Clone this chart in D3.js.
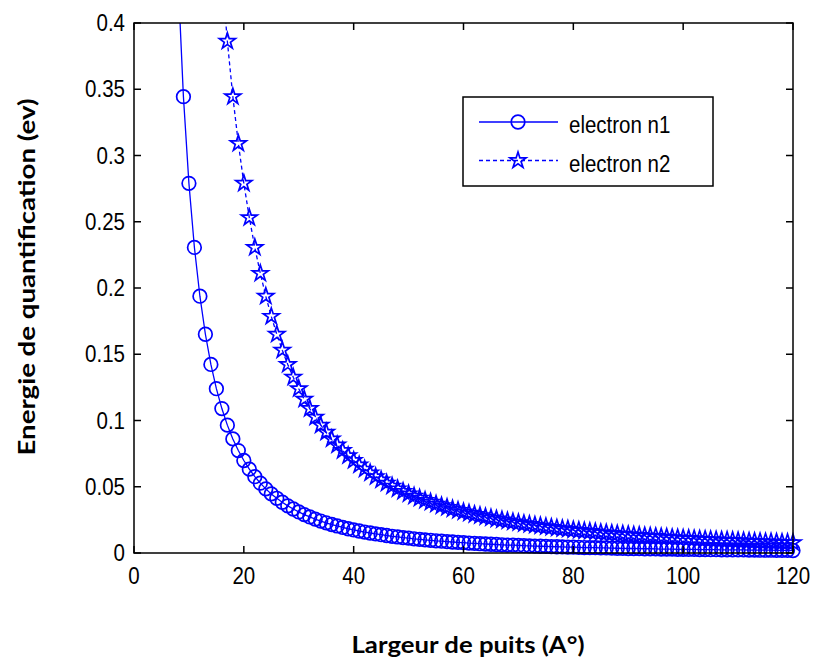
<!DOCTYPE html>
<html>
<head>
<meta charset="utf-8">
<script src="https://cdn.jsdelivr.net/npm/d3@7"></script>
<style>
  body { margin: 0; background: #fff; }
  svg { display: block; }
  .tick-label { font-family: "Liberation Sans", Arial, sans-serif; font-size: 20.5px; fill: #000; }
  .axis-title { font-family: Lato, "Open Sans", sans-serif; font-weight: bold; font-size: 22px; fill: #000; }
</style>
</head>
<body>
<div id="chart"></div>
<script>
// well width (A°)
var widths = [
  8, 9, 10, 11, 12, 13, 14, 15, 16, 17, 18, 19, 20, 21, 22, 23, 24, 25, 26, 27,
  28, 29, 30, 31, 32, 33, 34, 35, 36, 37, 38, 39, 40, 41, 42, 43, 44, 45, 46, 47,
  48, 49, 50, 51, 52, 53, 54, 55, 56, 57, 58, 59, 60, 61, 62, 63, 64, 65, 66, 67,
  68, 69, 70, 71, 72, 73, 74, 75, 76, 77, 78, 79, 80, 81, 82, 83, 84, 85, 86, 87,
  88, 89, 90, 91, 92, 93, 94, 95, 96, 97, 98, 99, 100, 101, 102, 103, 104, 105, 106, 107,
  108, 109, 110, 111, 112, 113, 114, 115, 116, 117, 118, 119, 120
];

// quantification energy (ev), level n1
var electronN1 = [
  0.4359, 0.3444, 0.2790, 0.2306, 0.1938, 0.1651, 0.1423, 0.1240, 0.1090, 0.0965,
  0.0861, 0.0773, 0.0698, 0.0633, 0.0576, 0.0527, 0.0484, 0.0446, 0.0413, 0.0383,
  0.0356, 0.0332, 0.0310, 0.0290, 0.0272, 0.0256, 0.0241, 0.0228, 0.0215, 0.0204,
  0.0193, 0.0183, 0.0174, 0.0166, 0.0158, 0.0151, 0.0144, 0.0138, 0.0132, 0.0126,
  0.0121, 0.0116, 0.0112, 0.0107, 0.0103, 0.0099, 0.0096, 0.0092, 0.0089, 0.0086,
  0.0083, 0.0080, 0.0078, 0.0075, 0.0073, 0.0070, 0.0068, 0.0066, 0.0064, 0.0062,
  0.0060, 0.0059, 0.0057, 0.0055, 0.0054, 0.0052, 0.0051, 0.0050, 0.0048, 0.0047,
  0.0046, 0.0045, 0.0044, 0.0043, 0.0041, 0.0040, 0.0040, 0.0039, 0.0038, 0.0037,
  0.0036, 0.0035, 0.0034, 0.0034, 0.0033, 0.0032, 0.0032, 0.0031, 0.0030, 0.0030,
  0.0029, 0.0028, 0.0028, 0.0027, 0.0027, 0.0026, 0.0026, 0.0025, 0.0025, 0.0024,
  0.0024, 0.0023, 0.0023, 0.0023, 0.0022, 0.0022, 0.0021, 0.0021, 0.0021, 0.0020,
  0.0020, 0.0020, 0.0019
];

// quantification energy (ev), level n2
var electronN2 = [
  1.7438, 1.3778, 1.1160, 0.9223, 0.7750, 0.6604, 0.5694, 0.4960, 0.4359, 0.3862,
  0.3444, 0.3091, 0.2790, 0.2531, 0.2306, 0.2110, 0.1938, 0.1786, 0.1651, 0.1531,
  0.1423, 0.1327, 0.1240, 0.1161, 0.1090, 0.1025, 0.0965, 0.0911, 0.0861, 0.0815,
  0.0773, 0.0734, 0.0698, 0.0664, 0.0633, 0.0604, 0.0576, 0.0551, 0.0527, 0.0505,
  0.0484, 0.0465, 0.0446, 0.0429, 0.0413, 0.0397, 0.0383, 0.0369, 0.0356, 0.0343,
  0.0332, 0.0321, 0.0310, 0.0300, 0.0290, 0.0281, 0.0272, 0.0264, 0.0256, 0.0249,
  0.0241, 0.0234, 0.0228, 0.0221, 0.0215, 0.0209, 0.0204, 0.0198, 0.0193, 0.0188,
  0.0183, 0.0179, 0.0174, 0.0170, 0.0166, 0.0162, 0.0158, 0.0154, 0.0151, 0.0147,
  0.0144, 0.0141, 0.0138, 0.0135, 0.0132, 0.0129, 0.0126, 0.0124, 0.0121, 0.0119,
  0.0116, 0.0114, 0.0112, 0.0109, 0.0107, 0.0105, 0.0103, 0.0101, 0.0099, 0.0097,
  0.0096, 0.0094, 0.0092, 0.0091, 0.0089, 0.0087, 0.0086, 0.0084, 0.0083, 0.0082,
  0.0080, 0.0079, 0.0078
];

var xTicks = [0, 20, 40, 60, 80, 100, 120];
var yTicks = [0, 0.05, 0.1, 0.15, 0.2, 0.25, 0.3, 0.35, 0.4];
var legendLabels = ["electron n1", "electron n2"];

var W = 816, H = 659;
var margin = { top: 23, right: 23, bottom: 106, left: 134 },
  width = W - margin.left - margin.right,
  height = H - margin.top - margin.bottom;

var blue = "#0000ff";
var stretch = 1.16; // the reference text is a bit taller than wide

var svg = d3.select("#chart").append("svg")
  .attr("width", W)
  .attr("height", H);

var g = svg.append("g")
  .attr("transform", "translate(" + margin.left + "," + margin.top + ")");

var x = d3.scaleLinear().domain([0, 120]).range([0, width]);
var y = d3.scaleLinear().domain([0, 0.4]).range([height, 0]);

svg.append("defs").append("clipPath")
  .attr("id", "plotclip")
  .append("rect")
  .attr("width", width)
  .attr("height", height);

var series = [
  { name: legendLabels[0], vals: electronN1, dash: null, marker: "circle" },
  { name: legendLabels[1], vals: electronN2, dash: "4,3", marker: "star" }
];

var line = d3.line()
  .x(function(d) { return x(d[0]); })
  .y(function(d) { return y(d[1]); });

var star = d3.symbol().type(d3.symbolStar).size(80);

function drawMarker(sel, type) {
  if (type == "circle") {
    sel.append("circle").attr("r", 6.8);
  } else {
    sel.append("path").attr("d", star);
  }
}

// lines (clipped to the axes), then markers (only for points inside the range)
series.forEach(function(s) {
  var pts = widths.map(function(w, i) { return [w, s.vals[i]]; });

  g.append("path")
    .datum(pts)
    .attr("clip-path", "url(#plotclip)")
    .attr("d", line)
    .style("fill", "none")
    .style("stroke", blue)
    .style("stroke-width", 1.3)
    .style("stroke-dasharray", s.dash);

  var m = g.append("g")
    .style("fill", "none")
    .style("stroke", blue)
    .style("stroke-width", 1.7)
    .selectAll("g")
    .data(pts.filter(function(p) { return p[1] <= 0.4; }))
    .enter().append("g")
    .attr("transform", function(p) {
      return "translate(" + x(p[0]) + "," + y(p[1]) + ")";
    });
  drawMarker(m, s.marker);
});

// axes box with inward ticks on all four sides
var tl = 7;
g.append("rect")
  .attr("width", width)
  .attr("height", height)
  .style("fill", "none")
  .style("stroke", "#000")
  .style("stroke-width", 1.5);

var ticks = g.append("g").style("stroke", "#000").style("stroke-width", 1.5);
xTicks.forEach(function(t) {
  ticks.append("line").attr("x1", x(t)).attr("x2", x(t)).attr("y1", height).attr("y2", height - tl);
  ticks.append("line").attr("x1", x(t)).attr("x2", x(t)).attr("y1", 0).attr("y2", tl);
});
yTicks.forEach(function(t) {
  ticks.append("line").attr("x1", 0).attr("x2", tl).attr("y1", y(t)).attr("y2", y(t));
  ticks.append("line").attr("x1", width).attr("x2", width - tl).attr("y1", y(t)).attr("y2", y(t));
});

function stretched(sel, px, py) {
  return sel.append("text")
    .attr("class", "tick-label")
    .attr("transform", "translate(" + px + "," + py + ") scale(1," + stretch + ")");
}

xTicks.forEach(function(t) {
  stretched(g, x(t), height + 31)
    .attr("text-anchor", "middle")
    .text(t);
});

yTicks.forEach(function(t) {
  stretched(g, -9, y(t) + 8)
    .attr("text-anchor", "end")
    .text(t);
});

// axis titles
svg.append("text")
  .attr("class", "axis-title")
  .attr("x", 468)
  .attr("y", 653)
  .attr("text-anchor", "middle")
  .attr("textLength", 233)
  .attr("lengthAdjust", "spacingAndGlyphs")
  .text("Largeur de puits (A°)");

svg.append("text")
  .attr("class", "axis-title")
  .attr("transform", "translate(35,277) rotate(-90)")
  .attr("text-anchor", "middle")
  .attr("textLength", 357)
  .attr("lengthAdjust", "spacingAndGlyphs")
  .text("Energie de quantification (ev)");

// legend
var leg = svg.append("g").attr("transform", "translate(463,97)");
leg.append("rect")
  .attr("width", 250)
  .attr("height", 89)
  .style("fill", "#fff")
  .style("stroke", "#000")
  .style("stroke-width", 1.5);

series.forEach(function(s, i) {
  var ly = 25 + i * 38.5;
  leg.append("line")
    .attr("x1", 16).attr("x2", 95)
    .attr("y1", ly).attr("y2", ly)
    .style("stroke", blue)
    .style("stroke-width", 1.3)
    .style("stroke-dasharray", s.dash);
  var mk = leg.append("g")
    .attr("transform", "translate(55," + ly + ")")
    .style("fill", "none")
    .style("stroke", blue)
    .style("stroke-width", 1.7);
  drawMarker(mk, s.marker);
  stretched(leg, 106, ly + 11).text(s.name);
});
</script>
</body>
</html>
